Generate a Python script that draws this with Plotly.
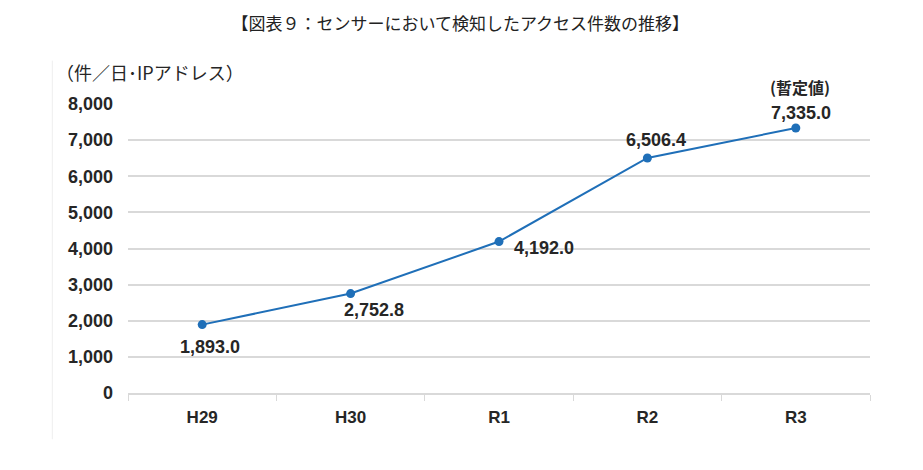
import plotly.graph_objects as go

# データ
years = ['H29', 'H30', 'R1', 'R2', 'R3']
counts = [1893.0, 2752.8, 4192.0, 6506.4, 7335.0]
y_ticks = [0, 1000, 2000, 3000, 4000, 5000, 6000, 7000, 8000]

# ラベルのずらし量 (px)
label_dx = [8, 23, 45, 9, 5]
label_dy = [-22, -16, -6, 18, 15]

fig = go.Figure()

fig.add_trace(go.Scatter(
    x=years, y=counts, mode='lines+markers',
    line=dict(color='#1f6fb8', width=2),
    marker=dict(size=9, color='#1f6fb8'),
    showlegend=False,
))

# データラベル
for yr, v, dx, dy in zip(years, counts, label_dx, label_dy):
    fig.add_annotation(x=yr, y=v, xref='x', yref='y', text=f'<b>{v:,.1f}</b>',
                       showarrow=False, xshift=dx, yshift=dy,
                       font=dict(family='Liberation Sans, Arial', size=18, color='#262626'))

fig.update_layout(
    width=923, height=470,
    margin=dict(l=120, r=61, t=96, b=85),
    paper_bgcolor='white', plot_bgcolor='white',
    title=dict(text='【図表９：センサーにおいて検知したアクセス件数の推移】',
               x=0.49, xanchor='center', y=0.965, yanchor='middle',
               font=dict(family='Noto Sans CJK JP', size=17, color='#222222')),
    xaxis=dict(
        type='category', range=[-0.5, 4.5], showgrid=False,
        showline=True, linecolor='#d9d9d9', linewidth=1.5,
        ticks='outside', tickson='boundaries', ticklen=6, tickcolor='#d9d9d9',
        tickvals=years, ticktext=[f'<b>{c}</b>' for c in years],
        tickfont=dict(family='Liberation Sans, Arial', size=17, color='#262626'),
        ticklabelstandoff=8,
    ),
    yaxis=dict(
        range=[0, 8000], tickvals=y_ticks,
        ticktext=[f'<b>{v:,d}</b>' for v in y_ticks],
        showgrid=True, gridcolor='#d9d9d9', gridwidth=1.5,
        zeroline=False, showline=False,
        ticks='', ticklabelstandoff=14,
        tickfont=dict(family='Liberation Sans, Arial', size=18, color='#262626'),
    ),
)

# 単位・注記
fig.add_annotation(text='（件／日･IPアドレス）', xref='paper', yref='paper',
                   x=-0.1, y=1.11, xanchor='left', yanchor='middle', showarrow=False,
                   font=dict(family='Noto Sans CJK JP', size=18, color='#262626'))
fig.add_annotation(text='<b>(暫定値)</b>', xref='x', yref='paper',
                   x='R3', y=1.06, xanchor='center', yanchor='middle', showarrow=False,
                   xshift=4, font=dict(family='Noto Sans CJK JP', size=16, color='#262626'))

# 左端の縦線
fig.add_shape(type='line', xref='paper', yref='paper',
              x0=-0.102, x1=-0.102, y0=-0.16, y1=1.15,
              line=dict(color='#eeeeee', width=1))

fig.write_html('out.html')
